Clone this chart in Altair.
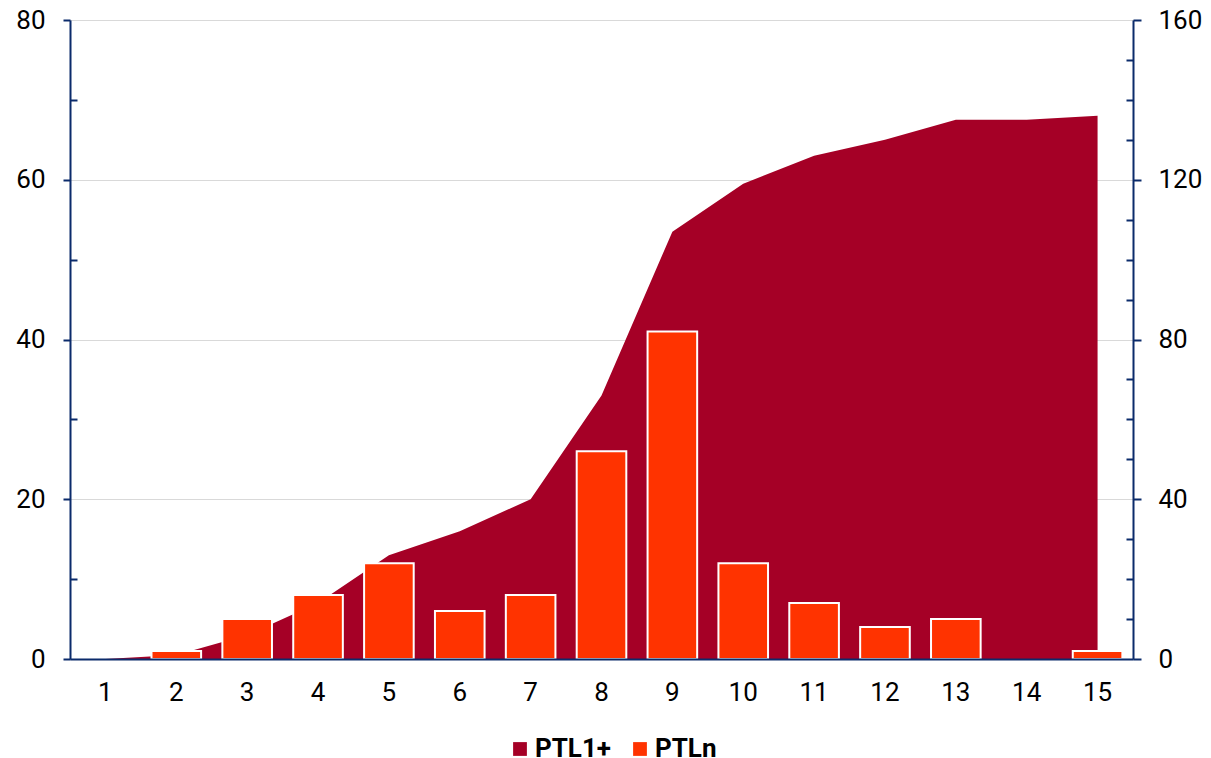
import altair as alt
import pandas as pd

periods = list(range(1, 16))
ptl1_plus = [0, 1, 6, 14, 26, 32, 40, 66, 107, 119, 126, 130, 135, 135, 136]
ptln = [0, 1, 5, 8, 12, 6, 8, 26, 41, 12, 7, 4, 5, 0, 1]
series_names = ["PTL1+", "PTLn"]

NAVY = "#0B2B6B"
DARK = "#A50026"
ORANGE = "#FF3300"
FONT = "Roboto"
FS = 26

W, H = 1063, 639

df = pd.DataFrame({
    "period": periods * 2,
    "series": [series_names[0]] * len(periods) + [series_names[1]] * len(periods),
    "value": ptl1_plus + ptln,
})

x_enc = alt.X(
    "period:O",
    scale=alt.Scale(paddingInner=0.3, paddingOuter=0.15),
    axis=alt.Axis(title=None, labelAngle=0, ticks=False, domain=True, domainColor=NAVY,
                  domainWidth=2, labelFontSize=FS, labelColor="black", labelPadding=20,
                  labelFont=FONT, grid=False, zindex=1),
)

color_enc = alt.Color(
    "series:N",
    scale=alt.Scale(domain=series_names, range=[DARK, ORANGE]),
    legend=alt.Legend(
        title=None, orient="none", legendX=437, legendY=716, direction="horizontal",
        symbolType="square", symbolSize=190, symbolStrokeWidth=0, labelFont=FONT,
        labelFontSize=26, labelFontWeight="bold", labelColor="black", labelOffset=2,
        columnPadding=15, padding=0,
    ),
)

area = alt.Chart(df).transform_filter(alt.datum.series == "PTL1+").mark_area(opacity=1).encode(
    x=x_enc,
    y=alt.Y("value:Q", scale=alt.Scale(domain=[0, 160], nice=False),
            axis=alt.Axis(orient="right", values=[0, 40, 80, 120, 160], title=None,
                          domainColor=NAVY, domainWidth=2, tickColor=NAVY, tickWidth=2,
                          tickSize=8, labelFontSize=FS, labelColor="black", labelFont=FONT,
                          labelPadding=17, grid=False)),
    color=color_enc,
)

bars = alt.Chart(df).transform_filter(
    (alt.datum.series == "PTLn") & (alt.datum.value > 0)
).mark_bar(stroke="white", strokeWidth=2).encode(
    x=x_enc,
    y=alt.Y("value:Q", scale=alt.Scale(domain=[0, 80], nice=False),
            axis=alt.Axis(orient="left", values=[0, 20, 40, 60, 80], title=None,
                          domainColor=NAVY, domainWidth=2, tickColor=NAVY, tickWidth=2,
                          tickSize=7, labelFontSize=FS, labelColor="black", labelFont=FONT,
                          labelPadding=18, grid=True, gridColor="#D9D9D9", gridWidth=1)),
    color=color_enc,
)

minor_left = alt.Chart(df).mark_point(opacity=0).encode(
    x=x_enc,
    y=alt.Y("value:Q", scale=alt.Scale(domain=[0, 80], nice=False),
            axis=alt.Axis(orient="right", offset=-W, values=[10, 30, 50, 70], title=None,
                          labels=False, domain=False, tickColor=NAVY, tickWidth=2,
                          tickSize=7, grid=False)),
)

minor_right = alt.Chart(df).mark_point(opacity=0).encode(
    x=x_enc,
    y=alt.Y("value:Q", scale=alt.Scale(domain=[0, 160], nice=False),
            axis=alt.Axis(orient="left", offset=-W,
                          values=[10, 20, 30, 50, 60, 70, 90, 100, 110, 130, 140, 150],
                          title=None, labels=False, domain=False, tickColor=NAVY,
                          tickWidth=2, tickSize=7, grid=False)),
)

chart = alt.layer(area, bars, minor_left, minor_right).resolve_scale(
    y="independent"
).properties(
    width=W, height=H,
    autosize=alt.AutoSizeParams(type="none"),
    padding={"left": 62, "top": 12, "right": 70, "bottom": 100},
).configure_view(
    stroke=NAVY, strokeWidth=2
).configure(font=FONT)

chart.save("out.html", embed_options={"renderer": "svg", "actions": False})
